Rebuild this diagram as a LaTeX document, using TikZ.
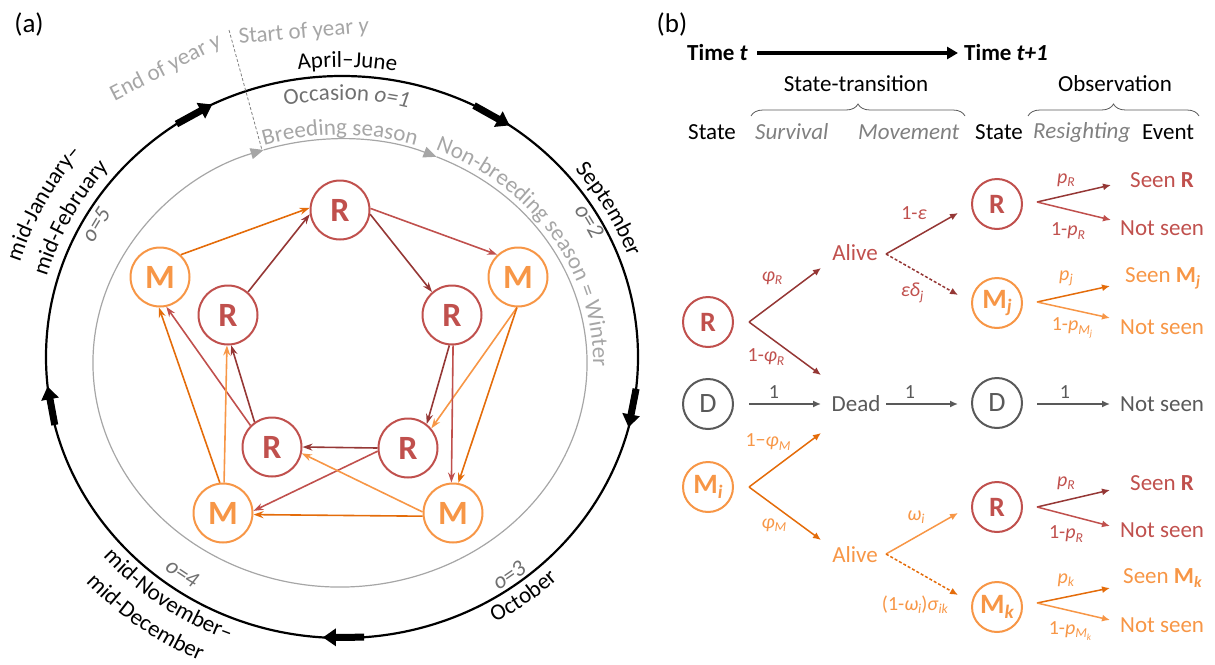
\documentclass[tikz,border=0pt]{standalone}
\usepackage{fontspec}
\setmainfont{Carlito}
\usepackage{graphicx}
\usetikzlibrary{arrows.meta,decorations.text,decorations.pathreplacing}
\definecolor{cR}{HTML}{C0504D}
\definecolor{cRd}{HTML}{953735}
\definecolor{cO}{HTML}{F79646}
\definecolor{cOd}{HTML}{E46C0A}
\definecolor{cG}{HTML}{595959}
\definecolor{cLG}{HTML}{A6A6A6}
\definecolor{cOcc}{HTML}{707070}
\definecolor{cIt}{HTML}{808080}
\newcommand{\fsz}{\fontsize{23}{27}\selectfont}
\newcommand{\sbx}[1]{\raisebox{-0.35ex}{\scalebox{0.68}{#1}}}
\begin{document}
\begin{tikzpicture}[x=1pt,y=-1pt,font=\fsz,
  every node/.style={inner sep=1pt},
  anode/.style={circle,draw,line width=2pt,minimum size=59pt,inner sep=0pt,fill=white,font=\fontsize{34}{34}\selectfont\bfseries},
  aR/.style={anode,draw=cR,text=cR},
  aM/.style={anode,draw=cO,text=cO},
  aedge/.style={line width=1.6pt,-{Stealth[length=10pt,width=7pt]}},
  bnode/.style={circle,draw,line width=2pt,minimum size=50pt,inner sep=0pt,fill=white,font=\fontsize{28}{28}\selectfont\bfseries},
  bR/.style={bnode,draw=cR,text=cR},
  bM/.style={bnode,draw=cO,text=cO},
  bD/.style={bnode,draw=cG,text=cG,font=\fontsize{28}{28}\selectfont},
  bedge/.style={line width=1.5pt,-{Latex[length=8pt,width=7pt]}},
  lab/.style={font=\fontsize{20}{24}\selectfont},
  tp/.style={decorate,decoration={text along path,text align=center,text={#1}}},
  tcol/.style={decoration={text color=#1}},
  blk/.style={line width=7pt,-{Triangle[length=13pt,width=17pt]}},
  gline/.style={draw=cLG,line width=1.2pt,-{Triangle[length=13pt,width=11pt]}},
]
\useasboundingbox (0,0) rectangle (1215,664);

% ---------------- panel (a) ----------------
\node[font=\fontsize{27}{30}\selectfont] (pa) at (29,24) {(a)};

% outer black ellipse and block arrows
\draw[line width=2.2pt] (342,357) ellipse[x radius=296pt,y radius=281pt];
\coordinate (k1a) at ({342+296*cos(124)},{357-281*sin(124)});
\coordinate (k1b) at ({342+296*cos(116)},{357-281*sin(116)});
\coordinate (k2a) at ({342+296*cos(63.5)},{357-281*sin(63.5)});
\coordinate (k2b) at ({342+296*cos(55.5)},{357-281*sin(55.5)});
\coordinate (k3a) at ({342+296*cos(-6.5)},{357-281*sin(-6.5)});
\coordinate (k3b) at ({342+296*cos(-14.5)},{357-281*sin(-14.5)});
\coordinate (k4a) at ({342+296*cos(-85.7)},{357-281*sin(-85.7)});
\coordinate (k4b) at ({342+296*cos(-93.7)},{357-281*sin(-93.7)});
\coordinate (k5a) at ({342+296*cos(194)},{357-281*sin(194)});
\coordinate (k5b) at ({342+296*cos(186)},{357-281*sin(186)});
\draw[blk] (k1a) -- (k1b);
\draw[blk] (k2a) -- (k2b);
\draw[blk] (k3a) -- (k3b);
\draw[blk] (k4a) -- (k4b);
\draw[blk] (k5a) -- (k5b);

% inner gray ellipse with two arrowheads
\draw[gline] ({340+247*cos(67)},{363-224*sin(67)}) arc[start angle=67,end angle=-252,x radius=247pt,y radius=224pt];
\draw[gline] ({340+247*cos(108)},{363-224*sin(108)}) arc[start angle=108,end angle=67,x radius=247pt,y radius=224pt];

% dashed year boundary
\coordinate (ya) at (229,30);
\coordinate (yb) at (262,150);
\draw[cIt,line width=0.8pt,dash pattern=on 3pt off 2pt] (ya) -- (yb);
\node[text=cLG,rotate=5] (soy) at (304,32) {Start of year \textit{y}};
\node[text=cLG,rotate=27] (eoy) at (166,68) {End of year \textit{y}};

% texts along the circles
\path[tp={|\fsz|April–June}] ({342+305*cos(114)},{357-290*sin(114)}) arc[start angle=114,end angle=64,x radius=305pt,y radius=290pt];
\path[tp={|\fsz|Occasion |\fsz\itshape|o=1},tcol=cOcc] ({342+272*cos(124)},{357-257*sin(124)}) arc[start angle=124,end angle=54,x radius=272pt,y radius=257pt];
\path[tp={|\fsz|September}] ({342+305*cos(55)},{357-290*sin(55)}) arc[start angle=55,end angle=5,x radius=305pt,y radius=290pt];
\path[tp={|\fsz\itshape|o=2},tcol=cOcc] ({342+279*cos(45)},{357-264*sin(45)}) arc[start angle=45,end angle=15,x radius=279pt,y radius=264pt];
\path[tp={|\fsz|October}] ({342+318*cos(-79)},{357-303*sin(-79)}) arc[start angle=-79,end angle=-29,x radius=318pt,y radius=303pt];
\path[tp={|\fsz\itshape|o=3},tcol=cOcc] ({342+292*cos(-69)},{357-277*sin(-69)}) arc[start angle=-69,end angle=-39,x radius=292pt,y radius=277pt];
\path[tp={|\fsz|mid-November–}] ({342+318*cos(-156)},{357-303*sin(-156)}) arc[start angle=-156,end angle=-94,x radius=318pt,y radius=303pt];
\path[tp={|\fsz|mid-December}] ({342+348*cos(-156)},{357-333*sin(-156)}) arc[start angle=-156,end angle=-96,x radius=348pt,y radius=333pt];
\path[tp={|\fsz\itshape|o=4},tcol=cOcc] ({342+286*cos(-140)},{357-271*sin(-140)}) arc[start angle=-140,end angle=-110,x radius=286pt,y radius=271pt];
\path[tp={|\fsz|mid-January–}] ({342+337*cos(182)},{357-322*sin(182)}) arc[start angle=182,end angle=122,x radius=337pt,y radius=322pt];
\path[tp={|\fsz|mid-February}] ({342+307*cos(182)},{357-292*sin(182)}) arc[start angle=182,end angle=122,x radius=307pt,y radius=292pt];
\path[tp={|\fsz\itshape|o=5},tcol=cOcc] ({342+276*cos(165)},{357-261*sin(165)}) arc[start angle=165,end angle=136,x radius=276pt,y radius=261pt];
\path[tp={|\fsz|Breeding season},tcol=cLG] ({340+251*cos(125)},{363-228*sin(125)}) arc[start angle=125,end angle=55,x radius=251pt,y radius=228pt];
\path[tp={|\fsz|Non-breeding season = Winter},tcol=cLG] ({340+253*cos(78)},{363-230*sin(78)}) arc[start angle=78,end angle=-12,x radius=253pt,y radius=230pt];

% state nodes
\node[aR] (a1) at (340,210) {R};
\node[aR] (a2R) at (452,315) {R};
\node[aM] (a2M) at (518,277) {M};
\node[aR] (a3R) at (408,448) {R};
\node[aM] (a3M) at (453,513) {M};
\node[aR] (a4R) at (272,447) {R};
\node[aM] (a4M) at (223,513) {M};
\node[aR] (a5R) at (228,315) {R};
\node[aM] (a5M) at (160,277) {M};

% transitions
\draw[aedge,cOd] (a5M.47) -- (a1.176);
\draw[aedge,cRd] (a5R.49) -- (a1.188);
\draw[aedge,cR] (a1.3) -- (a2M.133);
\draw[aedge,cRd] (a1.-8) -- (a2R.131);
\draw[aedge,cRd] (a2R.-95) -- (a3R.52);
\draw[aedge,cO] (a2M.-92) -- (a3R.40);
\draw[aedge,cR] (a2R.-88) -- (a3M.93);
\draw[aedge,cOd] (a2M.-92) -- (a3M.80);
\draw[aedge,cRd] (a3R.180) -- (a4R.0);
\draw[aedge,cR] (a3R.186) -- (a4M.4);
\draw[aedge,cOd] (a3M.186) -- (a4M.-3);
\draw[aedge,cO] (a3M.178) -- (a4R.-12);
\draw[aedge,cRd] (a4R.125) -- (a5R.-84);
\draw[aedge,cR] (a4R.135) -- (a5M.-78);
\draw[aedge,cO] (a4M.88) -- (a5R.-92);
\draw[aedge,cOd] (a4M.96) -- (a5M.-92);

% ---------------- panel (b) ----------------
\node[font=\fontsize{27}{30}\selectfont] (pb) at (672,24) {(b)};
\node[anchor=west,font=\fsz\bfseries] (tt) at (686,53) {Time \textit{t}};
\node[anchor=west,font=\fsz\bfseries] (tt1) at (963,53) {Time \textit{t+1}};
\draw[line width=3.5pt,-{Triangle[length=11pt,width=12pt]}] ([xshift=8pt]tt.east) -- ([xshift=-5pt]tt1.west);

\node (st) at (856,84) {State-transition};
\node (ob) at (1115,84) {Observation};
\coordinate (br1a) at (751,116);
\coordinate (br1b) at (965,116);
\coordinate (br2a) at (1028,116);
\coordinate (br2b) at (1199,116);
\draw[decorate,decoration={brace,amplitude=12pt},line width=0.8pt,cG] (br1a) -- (br1b);
\draw[decorate,decoration={brace,amplitude=12pt},line width=0.8pt,cG] (br2a) -- (br2b);

\node[anchor=west] (h1) at (687,132) {State};
\node[anchor=west,text=cIt,font=\fsz\itshape] (h2) at (754,132) {Survival};
\node[anchor=west,text=cIt,font=\fsz\itshape] (h3) at (857,132) {Movement};
\node[anchor=west] (h4) at (974,132) {State};
\node[anchor=west,text=cIt,font=\fsz\itshape] (h5) at (1032,132) {Resighting};
\node[anchor=west] (h6) at (1141,132) {Event};

% state nodes
\node[bR] (pR) at (708,322) {R};
\node[bD] (pD) at (708,404) {D};
\node[bM] (pMi) at (708,487) {M\sbx{\textit{i}}};
\node[text=cR] (al1) at (855,253) {Alive};
\node[text=cG] (dead) at (856,404) {Dead};
\node[text=cO] (al2) at (855,555) {Alive};
\node[bR] (qR1) at (997,204) {R};
\node[bM] (qMj) at (997,303) {M\sbx{\textit{j}}};
\node[bD] (qD) at (997,403) {D};
\node[bR] (qR2) at (997,507) {R};
\node[bM] (qMk) at (997,607) {M\sbx{\textit{k}}};

% events
\node[anchor=west,text=cR] (e1) at (1129,180) {Seen \textbf{R}};
\node[anchor=west,text=cR] (e2) at (1119,228) {Not seen};
\node[anchor=west,text=cO] (e3) at (1124,278) {Seen \textbf{M}\sbx{\textbf{\textit{j}}}};
\node[anchor=west,text=cO] (e4) at (1119,327) {Not seen};
\node[anchor=west,text=cG] (e5) at (1119,404) {Not seen};
\node[anchor=west,text=cR] (e6) at (1129,483) {Seen \textbf{R}};
\node[anchor=west,text=cR] (e7) at (1119,530) {Not seen};
\node[anchor=west,text=cO] (e8) at (1122,578) {Seen \textbf{M}\sbx{\textbf{\textit{k}}}};
\node[anchor=west,text=cO] (e9) at (1119,625) {Not seen};

% connector ends
\coordinate (pRo) at (749,322);
\coordinate (pRu) at (821,268);
\coordinate (pRd) at (821,375);
\coordinate (pDo) at (749,404);
\coordinate (deadI) at (821,404);
\coordinate (deadO) at (886,404);
\coordinate (qDi) at (958,404);
\coordinate (qDo) at (1037,404);
\coordinate (nsD) at (1110,404);
\coordinate (pMo) at (749,487);
\coordinate (pMu) at (821,433);
\coordinate (pMd) at (821,540);
\coordinate (a1o) at (886,254);
\coordinate (a1u) at (958,213);
\coordinate (a1d) at (958,295);
\coordinate (a2o) at (886,554);
\coordinate (a2u) at (958,513);
\coordinate (a2d) at (958,595);
\coordinate (r1o) at (1037,202);
\coordinate (r1u) at (1111,185);
\coordinate (r1d) at (1111,220);
\coordinate (mjo) at (1037,302);
\coordinate (mju) at (1110,286);
\coordinate (mjd) at (1110,318);
\coordinate (r2o) at (1037,507);
\coordinate (r2u) at (1110,490);
\coordinate (r2d) at (1110,526);
\coordinate (mko) at (1037,603);
\coordinate (mku) at (1110,588);
\coordinate (mkd) at (1110,620);

\draw[bedge,cRd] (pRo) -- (pRu);
\draw[bedge,cRd] (pRo) -- (pRd);
\draw[bedge,cG] (pDo) -- (deadI);
\draw[bedge,cG] (deadO) -- (qDi);
\draw[bedge,cG] (qDo) -- (nsD);
\draw[bedge,cOd] (pMo) -- (pMu);
\draw[bedge,cOd] (pMo) -- (pMd);
\draw[bedge,cRd] (a1o) -- (a1u);
\draw[bedge,cRd,dash pattern=on 3pt off 2pt] (a1o) -- (a1d);
\draw[bedge,cO] (a2o) -- (a2u);
\draw[bedge,cOd,dash pattern=on 3pt off 2pt] (a2o) -- (a2d);
\draw[bedge,cRd] (r1o) -- (r1u);
\draw[bedge,cR] (r1o) -- (r1d);
\draw[bedge,cOd] (mjo) -- (mju);
\draw[bedge,cO] (mjo) -- (mjd);
\draw[bedge,cRd] (r2o) -- (r2u);
\draw[bedge,cR] (r2o) -- (r2d);
\draw[bedge,cOd] (mko) -- (mku);
\draw[bedge,cO] (mko) -- (mkd);

% labels
\node[lab,text=cR] (l1) at (772,278) {\textit{φ}\sbx{\textit{R}}};
\node[lab,text=cR] (l2) at (766,357) {1-\textit{φ}\sbx{\textit{R}}};
\node[lab,text=cG] (l3) at (774,392) {1};
\node[lab,text=cO] (l4) at (768,442) {1−\textit{φ}\sbx{\textit{M}}};
\node[lab,text=cO] (l5) at (774,525) {\textit{φ}\sbx{\textit{M}}};
\node[lab,text=cR] (l6) at (914,213) {1-\textit{ε}};
\node[lab,text=cR] (l7) at (912,293) {\textit{εδ}\sbx{\textit{j}}};
\node[lab,text=cG] (l8) at (910,392) {1};
\node[lab,text=cO] (l9) at (916,517) {\textit{ω}\sbx{\textit{i}}};
\node[lab,text=cO] (l10) at (915,605) {(1-\textit{ω}\sbx{\textit{i}})\textit{σ}\sbx{\textit{ik}}};
\node[lab,text=cR] (l11) at (1066,180) {\textit{p}\sbx{\textit{R}}};
\node[lab,text=cR] (l12) at (1068,231) {1-\textit{p}\sbx{\textit{R}}};
\node[lab,text=cO] (l13) at (1066,278) {\textit{p}\sbx{\textit{j}}};
\node[lab,text=cO] (l14) at (1072,328) {1-\textit{p}\sbx{\textit{M}\sbx{\textit{j}}}};
\node[lab,text=cG] (l15) at (1065,392) {1};
\node[lab,text=cR] (l16) at (1066,483) {\textit{p}\sbx{\textit{R}}};
\node[lab,text=cR] (l17) at (1066,534) {1-\textit{p}\sbx{\textit{R}}};
\node[lab,text=cO] (l18) at (1066,580) {\textit{p}\sbx{\textit{k}}};
\node[lab,text=cO] (l19) at (1070,631) {1-\textit{p}\sbx{\textit{M}\sbx{\textit{k}}}};
\end{tikzpicture}
\end{document}
